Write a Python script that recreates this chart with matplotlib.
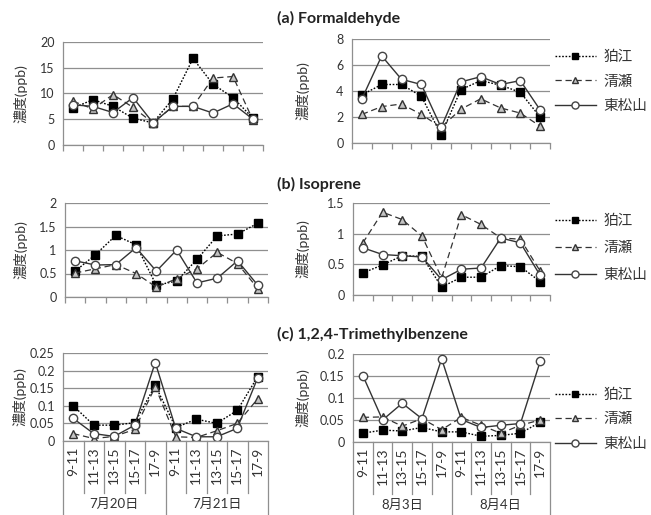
import matplotlib
matplotlib.use('Agg')
import matplotlib.pyplot as plt
import numpy as np
from matplotlib.ticker import FuncFormatter

plt.rcParams['font.family'] = ['Lato', 'Noto Sans CJK JP', 'DejaVu Sans']

# ---------------- data ----------------
time_slots = ["9-11", "11-13", "13-15", "15-17", "17-9"]
dates_july = ["7月20日", "7月21日"]
dates_aug = ["8月3日", "8月4日"]
sites = ["狛江", "清瀬", "東松山"]
titles = ["(a) Formaldehyde", "(b) Isoprene", "(c) 1,2,4-Trimethylbenzene"]
ylabel = "濃度(ppb)"

# (a) Formaldehyde
form_jul_komae = [7.2, 8.8, 7.5, 5.2, 4.3, 9.0, 16.8, 11.8, 9.2, 5.2]
form_jul_kiyose = [8.5, 7.0, 9.8, 7.3, 4.3, 7.5, 7.5, 13.0, 13.3, 4.8]
form_jul_higashi = [7.8, 7.5, 6.3, 9.2, 4.3, 7.5, 7.5, 6.2, 8.0, 5.0]
form_aug_komae = [3.7, 4.5, 4.5, 3.6, 0.65, 4.1, 4.8, 4.45, 3.9, 2.0]
form_aug_kiyose = [2.2, 2.8, 3.0, 2.2, 1.2, 2.6, 3.4, 2.7, 2.3, 1.3]
form_aug_higashi = [3.4, 6.7, 4.9, 4.5, 1.2, 4.7, 5.1, 4.5, 4.8, 2.55]

# (b) Isoprene
iso_jul_komae = [0.55, 0.9, 1.31, 1.11, 0.25, 0.34, 0.8, 1.3, 1.34, 1.57]
iso_jul_kiyose = [0.51, 0.6, 0.69, 0.5, 0.21, 0.39, 0.6, 0.95, 0.71, 0.18]
iso_jul_higashi = [0.77, 0.68, 0.69, 1.05, 0.55, 1.0, 0.3, 0.4, 0.77, 0.25]
iso_aug_komae = [0.36, 0.49, 0.64, 0.63, 0.13, 0.29, 0.29, 0.48, 0.46, 0.22]
iso_aug_kiyose = [0.85, 1.35, 1.23, 0.96, 0.28, 1.31, 1.15, 0.93, 0.91, 0.39]
iso_aug_higashi = [0.77, 0.66, 0.64, 0.62, 0.25, 0.42, 0.44, 0.93, 0.85, 0.32]

# (c) 1,2,4-Trimethylbenzene
tmb_jul_komae = [0.1, 0.045, 0.045, 0.052, 0.158, 0.038, 0.062, 0.05, 0.087, 0.183]
tmb_jul_kiyose = [0.021, 0.007, 0.013, 0.033, 0.154, 0.012, 0.01, 0.029, 0.05, 0.12]
tmb_jul_higashi = [0.064, 0.021, 0.013, 0.045, 0.223, 0.036, 0.012, 0.012, 0.036, 0.18]
tmb_aug_komae = [0.02, 0.027, 0.025, 0.033, 0.023, 0.023, 0.013, 0.015, 0.02, 0.045]
tmb_aug_kiyose = [0.056, 0.057, 0.036, 0.053, 0.028, 0.056, 0.038, 0.02, 0.038, 0.05]
tmb_aug_higashi = [0.151, 0.05, 0.088, 0.053, 0.189, 0.051, 0.033, 0.038, 0.042, 0.183]

# ---------------- styles ----------------
GRID = '#8f8f8f'
TXT = '#333333'
styles = [
    dict(color='black', ls=(0, (1.2, 1.2)), lw=1.0, marker='s', ms=5.5,
         mfc='black', mec='black'),
    dict(color='#333333', ls=(0, (5, 3)), lw=0.9, marker='^', ms=5.5,
         mfc='#c4c4c4', mec='#333333'),
    dict(color='#333333', ls='-', lw=1.0, marker='o', ms=6,
         mfc='white', mec='#444444'),
]

fig = plt.figure(figsize=(6.51, 5.15), dpi=100)
W, H = 651, 515


def add_ax(x0, x1, ytop, ybot):
    return fig.add_axes([x0 / W, 1 - ybot / H, (x1 - x0) / W, (ybot - ytop) / H])


def draw(ax, series, ymax, ystep, dates, multilevel, ylab_x):
    n = len(time_slots) * len(dates)
    x = np.arange(n)
    lines = []
    for vals, st, lab in zip(series, styles, sites):
        ln, = ax.plot(x, vals, label=lab, **st)
        lines.append(ln)
    ax.set_xlim(-0.5, n - 0.5)
    ax.set_ylim(0, ymax)
    ax.set_yticks(np.arange(0, ymax + ystep / 2, ystep))
    ax.yaxis.set_major_formatter(FuncFormatter(lambda v, p: f'{v:g}'))
    ax.grid(axis='y', color=GRID, lw=0.9)
    ax.set_axisbelow(True)
    for s in ['top', 'right']:
        ax.spines[s].set_visible(False)
    for s in ['left', 'bottom']:
        ax.spines[s].set_color(GRID)
        ax.spines[s].set_linewidth(0.9)
    ax.tick_params(axis='y', length=0, pad=6, labelsize=9, colors=TXT)
    ax.set_ylabel(ylabel, fontsize=10, color=TXT)
    ax.yaxis.set_label_coords(ylab_x, 0.5)
    if multilevel:
        ax.set_xticks(x, labels=time_slots * len(dates), rotation=90)
        ax.tick_params(axis='x', length=0, pad=4, labelsize=10, colors=TXT)
        tr = ax.get_xaxis_transform()
        for b in np.arange(-0.5, n, 1.0):
            outer = (round(b + 0.5) % len(time_slots)) == 0
            yend = -0.84 if outer else -0.59
            ax.plot([b, b], [0, yend], transform=tr, clip_on=False,
                    color=GRID, lw=0.9)
        for i, d in enumerate(dates):
            c = i * len(time_slots) + (len(time_slots) - 1) / 2
            ax.text(c, -0.72, d, transform=tr, ha='center', va='center',
                    fontsize=9.5, color=TXT)
    else:
        ax.set_xticks(x, labels=[])
        ax.tick_params(axis='x', which='major', length=0)
        ax.set_xticks(np.arange(-0.5, n, 1.0), minor=True)
        ax.tick_params(axis='x', which='minor', length=4, color=GRID, width=0.9)
    return lines


def legend(ax, lines, ycenter, spacing):
    ax.legend(handles=lines, loc='center left',
              bbox_to_anchor=(555 / W, 1 - ycenter / H),
              bbox_transform=fig.transFigure, frameon=False,
              fontsize=10.5, handlelength=2.8, handletextpad=0.5,
              labelspacing=spacing, borderpad=0, borderaxespad=0,
              markerscale=0.85, labelcolor=TXT)


# row (a)
axa1 = add_ax(63, 263, 42, 145)
axa2 = add_ax(352, 550, 39, 143)
draw(axa1, [form_jul_komae, form_jul_kiyose, form_jul_higashi], 20, 5,
     dates_july, False, -0.18)
la = draw(axa2, [form_aug_komae, form_aug_kiyose, form_aug_higashi], 8, 2,
          dates_aug, False, -0.217)
legend(axa2, la, 81.5, 0.72)

# row (b)
axb1 = add_ax(65, 268, 203, 297)
axb2 = add_ax(353, 550, 203, 295)
draw(axb1, [iso_jul_komae, iso_jul_kiyose, iso_jul_higashi], 2, 0.5,
     dates_july, False, -0.187)
lb = draw(axb2, [iso_aug_komae, iso_aug_kiyose, iso_aug_higashi], 1.5, 0.5,
          dates_aug, False, -0.223)
legend(axb2, lb, 248, 0.9)

# row (c)
axc1 = add_ax(63, 268, 353, 441)
axc2 = add_ax(353, 550, 354, 442)
draw(axc1, [tmb_jul_komae, tmb_jul_kiyose, tmb_jul_higashi], 0.25, 0.05,
     dates_july, True, -0.176)
lc = draw(axc2, [tmb_aug_komae, tmb_aug_kiyose, tmb_aug_higashi], 0.2, 0.05,
          dates_aug, True, -0.223)
legend(axc2, lc, 419.5, 0.72)

# titles
for t, y in zip(titles, [18, 184, 334]):
    fig.text(277 / W, 1 - y / H, t, ha='left', va='center',
             fontsize=11.5, fontweight='bold', color='#222222')

fig.savefig('out.png', dpi=100, facecolor='white')
